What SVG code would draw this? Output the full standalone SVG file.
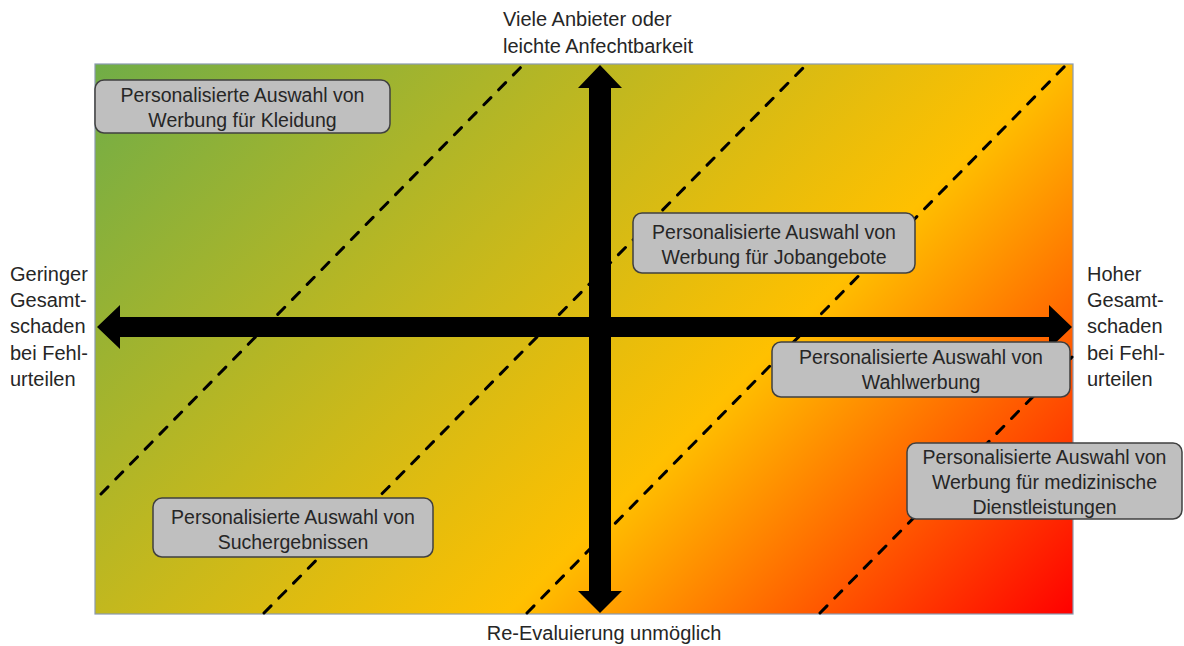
<svg xmlns="http://www.w3.org/2000/svg" width="1184" height="646" viewBox="0 0 1184 646">
  <defs>
    <!-- 45° risk gradient: green (low) through amber to red (high) -->
    <linearGradient id="risk" gradientUnits="userSpaceOnUse" x1="95" y1="64" x2="859" y2="828">
      <stop offset="0" stop-color="#70AD47"/>
      <stop offset="0.63" stop-color="#FFC000"/>
      <stop offset="1" stop-color="#FF0000"/>
    </linearGradient>
  </defs>
  <style>
    text { font-family: "Liberation Sans", Arial, sans-serif; font-size: 20px; fill: #262626; }
    .box rect { fill: #BFBFBF; stroke: #404040; stroke-width: 1.5; }
    .box text { text-anchor: middle; font-size: 19.5px; }
    .dash { fill: none; stroke: #000; stroke-width: 3; stroke-dasharray: 10 11; stroke-linecap: round; }
    .arrow { fill: #000; }
  </style>

  <rect width="1184" height="646" fill="#FFFFFF"/>

  <!-- field -->
  <rect id="field" x="95" y="64" width="978" height="550" fill="url(#risk)" stroke="#8A9AB0" stroke-width="1.2"/>

  <!-- iso lines and axes -->
  <g id="connectors">
    <line class="dash" x1="101" y1="494" x2="524" y2="64"/>
    <line class="dash" x1="264" y1="613" x2="806" y2="65"/>
    <line class="dash" x1="527" y1="613" x2="1065" y2="66"/>
    <line class="dash" x1="820" y1="613" x2="1072" y2="357"/>
    <polygon class="arrow" points="97,327 120,305 120,317 1049,317 1049,305 1072,327 1049,349 1049,337 120,337 120,349"/>
    <polygon class="arrow" points="600,65 622,88 611,88 611,591 622,591 600,613 578,591 589,591 589,88 578,88"/>
  </g>

  <!-- axis labels -->
  <g id="label-top">
    <text x="503" y="26">Viele Anbieter oder</text>
    <text x="503" y="53">leichte Anfechtbarkeit</text>
  </g>
  <g id="label-bottom">
    <text x="604" y="640" text-anchor="middle">Re-Evaluierung unmöglich</text>
  </g>
  <g id="label-left">
    <text x="10" y="281">Geringer</text>
    <text x="10" y="307">Gesamt-</text>
    <text x="10" y="333">schaden</text>
    <text x="10" y="360">bei Fehl-</text>
    <text x="10" y="386">urteilen</text>
  </g>
  <g id="label-right">
    <text x="1087" y="281">Hoher</text>
    <text x="1087" y="307">Gesamt-</text>
    <text x="1087" y="333">schaden</text>
    <text x="1087" y="360">bei Fehl-</text>
    <text x="1087" y="386">urteilen</text>
  </g>

  <!-- examples -->
  <g id="kleidung" class="box">
    <rect x="95" y="80" width="295" height="53" rx="9"/>
    <text x="242.5" y="102">Personalisierte Auswahl von</text>
    <text x="242.5" y="127">Werbung für Kleidung</text>
  </g>
  <g id="jobangebote" class="box">
    <rect x="633" y="213" width="282" height="60" rx="9"/>
    <text x="774" y="239">Personalisierte Auswahl von</text>
    <text x="774" y="264">Werbung für Jobangebote</text>
  </g>
  <g id="wahlwerbung" class="box">
    <rect x="772" y="342" width="298" height="55" rx="9"/>
    <text x="921" y="364">Personalisierte Auswahl von</text>
    <text x="921" y="389">Wahlwerbung</text>
  </g>
  <g id="medizin" class="box">
    <rect x="907" y="443" width="275" height="76" rx="9"/>
    <text x="1044.5" y="464">Personalisierte Auswahl von</text>
    <text x="1044.5" y="489">Werbung für medizinische</text>
    <text x="1044.5" y="514">Dienstleistungen</text>
  </g>
  <g id="suche" class="box">
    <rect x="153" y="498" width="280" height="59" rx="9"/>
    <text x="293" y="524">Personalisierte Auswahl von</text>
    <text x="293" y="549">Suchergebnissen</text>
  </g>
</svg>
